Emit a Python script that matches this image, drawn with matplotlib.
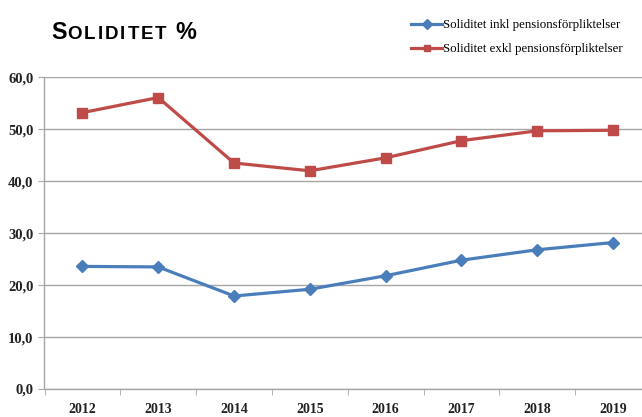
import matplotlib
matplotlib.use("Agg")
import matplotlib.pyplot as plt
from matplotlib.ticker import FixedLocator

years = ["2012", "2013", "2014", "2015", "2016", "2017", "2018", "2019"]
inkl = [23.6, 23.5, 17.9, 19.2, 21.8, 24.8, 26.8, 28.2]
exkl = [53.2, 56.1, 43.5, 42.0, 44.5, 47.8, 49.7, 49.8]
yticks = [0, 10, 20, 30, 40, 50, 60]
ytick_labels = ["0,0", "10,0", "20,0", "30,0", "40,0", "50,0", "60,0"]
label_inkl = "Soliditet inkl pensionsförpliktelser"
label_exkl = "Soliditet exkl pensionsförpliktelser"

BLUE = "#4a7ebb"
RED = "#be4b48"
GRID = "#a6a6a6"

W, H = 642, 417
fig = plt.figure(figsize=(W / 100, H / 100), dpi=100)
ax = fig.add_axes([44.5 / W, 28 / H, (651 - 44.5) / W, (389 - 77.3) / H])

x = list(range(len(years)))
l1, = ax.plot(x, inkl, color=BLUE, lw=2.3, marker="D", markersize=6,
              markerfacecolor=BLUE, markeredgecolor=BLUE, label=label_inkl, zorder=3)
l2, = ax.plot(x, exkl, color=RED, lw=2.3, marker="s", markersize=6.5,
              markerfacecolor=RED, markeredgecolor=RED, label=label_exkl, zorder=3)

ax.set_xlim(-0.5, len(years) - 0.5)
ax.set_ylim(0, 60)
ax.set_yticks(yticks)
ax.set_yticklabels(ytick_labels)
ax.set_xticks(x)
ax.set_xticklabels(years)
ax.xaxis.set_minor_locator(FixedLocator([i - 0.5 for i in range(len(years) + 1)]))
ax.tick_params(axis="x", which="major", length=0, pad=10)
ax.tick_params(axis="x", which="minor", length=4, color=GRID, direction="out")
ax.tick_params(axis="y", length=4, color=GRID, direction="out", pad=4)
for lab in ax.get_xticklabels():
    lab.set_fontfamily("Liberation Serif")
    lab.set_fontweight("bold")
    lab.set_fontsize(10)
    lab.set_color("#222222")
for lab in ax.get_yticklabels():
    lab.set_fontfamily("Liberation Serif")
    lab.set_fontweight("bold")
    lab.set_fontsize(10.5)
    lab.set_color("#222222")

ax.grid(axis="y", color=GRID, lw=1)
ax.set_axisbelow(True)
for s in ["top", "right"]:
    ax.spines[s].set_visible(False)
for s in ["left", "bottom"]:
    ax.spines[s].set_color(GRID)
    ax.spines[s].set_linewidth(1)

# Title in small caps style, letters placed individually
renderer = fig.canvas.get_renderer()
base_y = 1 - 39.2 / H
fig.text(51 / W, base_y, "S", fontsize=16.8, fontweight="bold",
         family="Liberation Sans", va="baseline", ha="left")
small = "OLIDITET"
tmp = []
widths = []
for ch in small:
    t = fig.text(0, base_y, ch, fontsize=13.5, fontweight="bold",
                 family="Liberation Sans", va="baseline", ha="left")
    widths.append(t.get_window_extent(renderer).width)
    tmp.append(t)
start, end = 67.5, 166.7
gap = (end - start - sum(widths)) / (len(small) - 1)
cx = start
for t, w in zip(tmp, widths):
    t.set_x(cx / W)
    cx += w + gap
fig.text(175 / W, base_y, "%", fontsize=16.8, fontweight="bold",
         family="Liberation Sans", va="baseline", ha="left")

leg = fig.legend(handles=[l1, l2], loc="upper left",
                 bbox_to_anchor=(411 / W, 1 - 19 / H), frameon=False,
                 prop={"family": "Liberation Serif", "size": 9.3},
                 handlelength=2.4, handletextpad=0.1, labelspacing=0.95,
                 borderpad=0, borderaxespad=0)
for h in leg.legend_handles:
    h.set_markersize(5)

fig.savefig("out.png", dpi=100)
